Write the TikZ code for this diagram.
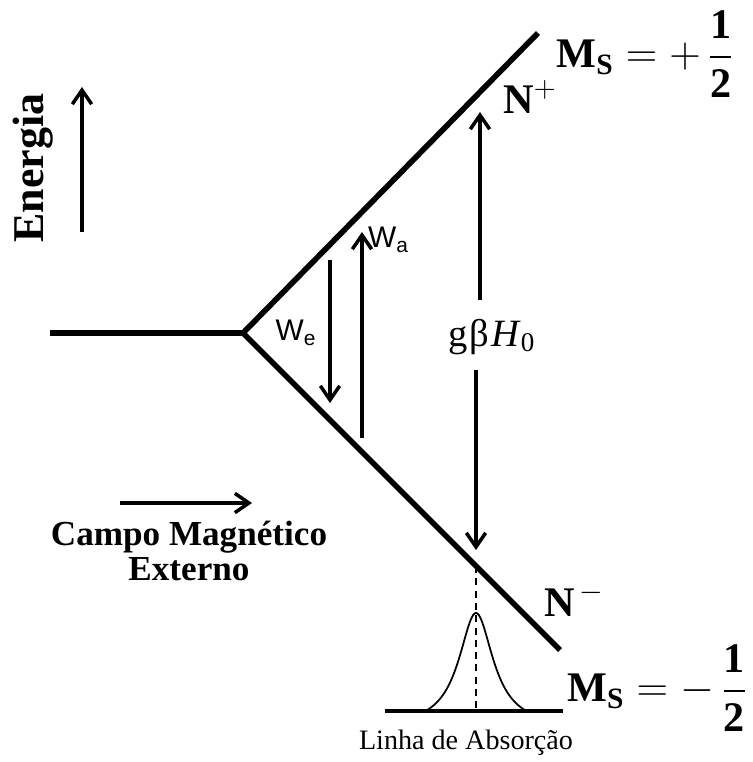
\documentclass[tikz,border=0pt]{standalone}
\usepackage{amsmath}
\usepackage{fontspec}
\setmainfont{Liberation Serif}
\setsansfont{Liberation Sans}
\usetikzlibrary{arrows.meta,positioning}
\tikzset{
	level/.style={line width=3.2pt},
	trans/.style={line width=2pt,-{Straight Barb[length=8pt,width=11pt]}},
	wlabel/.style={font=\sffamily\fontsize{17}{20}\selectfont},
	mslabel/.style={font=\fontsize{24}{28}\selectfont},
}

\begin{document}
\begin{tikzpicture}[x=0.02cm,y=-0.02cm]
	\useasboundingbox (0,0) rectangle (752,762);

	% niveis de energia
	\coordinate (o) at (243,333);
	\coordinate (l) at (50,333);
	\coordinate (up) at (538,33);
	\coordinate (dn) at (560,650);
	\draw[level] (l) -- (o) -- (up);
	\draw[level] (o) -- (dn);

	% eixo de energia
	\coordinate (e0) at (82,232);
	\coordinate (e1) at (82,87);
	\draw[trans] (e0) -- (e1);
	\node[rotate=90, font=\bfseries\fontsize{25}{29}\selectfont] (energia) at (33,168) {Energia};

	% campo magnetico
	\coordinate (c0) at (120,503);
	\coordinate (c1) at (252,503);
	\draw[trans] (c0) -- (c1);
	\node[align=center, font=\bfseries\fontsize{20}{20}\selectfont] (campo) at (189,551) {Campo Magnético\\Externo};

	% transicoes
	\coordinate (we0) at (330,260);
	\coordinate (we1) at (330,403);
	\coordinate (wa0) at (362,438);
	\coordinate (wa1) at (362,232);
	\draw[trans] (we0) -- (we1);
	\draw[trans] (wa0) -- (wa1);
	\node[wlabel] (we) at (296,333) {W\textsubscript{e}};
	\node[wlabel, anchor=west] (wa) at (362,240) {W\textsubscript{a}};

	% g beta H0
	\node[font=\fontsize{22}{25}\selectfont] (gbh) at (492,337) {g\kern1ptβ\kern1pt\textit{H}\textsubscript{0}};
	\coordinate (g0) at (480,300);
	\coordinate (g1) at (480,112);
	\coordinate (g2) at (476,370);
	\coordinate (g3) at (476,550);
	\draw[trans] (g0) -- (g1);
	\draw[trans] (g2) -- (g3);

	% linha de absorcao
	\coordinate (pk) at (476,566);
	\coordinate (pkb) at (476,711);
	\coordinate (b0) at (385,711);
	\coordinate (b1) at (563,711);
	\draw[line width=0.9pt, dash pattern=on 4pt off 3pt] (pk) -- (pkb);
	\draw[line width=2pt] (b0) -- (b1);
	\draw[line width=1pt] plot[domain=-50:50, samples=90] ({476+\x},{711-(115/(1+(\x/21)^2)-17)});
	\node[font=\fontsize{16}{19}\selectfont] (linha) at (466,743) {Linha de Absorção};

	% populacoes e estados
	\node[mslabel] (np) at (530,97) {\textbf{N}$^{+}$};
	\node[mslabel] (nm) at (574,600) {\textbf{N}$^{\,-}$};
	\node[mslabel] (msp) at (645,54) {\textbf{M}$_{\textbf{S}}=+\,\dfrac{\textbf{1}}{\textbf{2}}$};
	\node[mslabel] (msm) at (657,688) {\textbf{M}$_{\textbf{S}}=-\,\dfrac{\textbf{1}}{\textbf{2}}$};
\end{tikzpicture}
\end{document}
